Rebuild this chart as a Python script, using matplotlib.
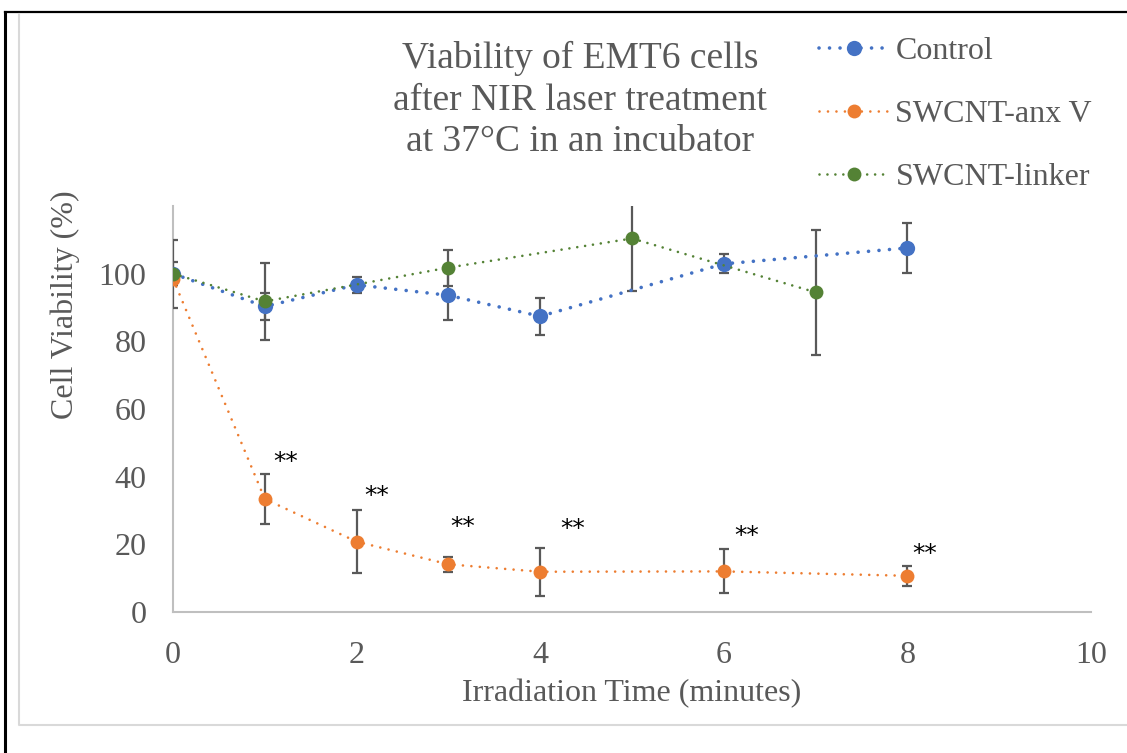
import numpy as np
import matplotlib.pyplot as plt
from matplotlib.lines import Line2D

# data
ctrl_x = [0, 1, 2, 3, 4, 6, 8]
ctrl_y = [100, 90.3, 96.7, 93.6, 87.4, 102.9, 107.6]
ctrl_err = [10, 4, 2.3, 7.2, 5.4, 2.8, 7.4]

anx_x = [0, 1, 2, 3, 4, 6, 8]
anx_y = [98.5, 33.4, 20.8, 14.1, 11.9, 12.0, 10.7]
anx_err = [0, 7.3, 9.4, 2.2, 7.1, 6.5, 2.9]

link_x = [0, 1, 3, 5, 7]
link_y = [100, 91.8, 101.8, 110.4, 94.5]
link_err = [3.4, 11.5, 5.3, 15.4, 18.4]

star_x = [1.23, 2.22, 3.16, 4.35, 6.25, 8.19]
star_y = [44.4, 34.3, 25.1, 24.6, 22.5, 17.2]

BLUE = '#4472C4'
ORANGE = '#ED7D31'
GREEN = '#548235'
GREY = '#595959'

plt.rcParams['font.family'] = ['Liberation Serif', 'DejaVu Serif']

fig = plt.figure(figsize=(11.27, 7.53), dpi=100)
ax = fig.add_axes([173 / 1127, 1 - 612 / 753, (1091 - 173) / 1127, (612 - 206) / 753])

series = [
    ('Control', ctrl_x, ctrl_y, ctrl_err, BLUE, 2.6, 2.9, 11),
    ('SWCNT-anx V', anx_x, anx_y, anx_err, ORANGE, 1.9, 3.2, 10),
    ('SWCNT-linker', link_x, link_y, link_err, GREEN, 1.9, 3.0, 10),
]

handles = []
for i, (name, xs, ys, es, col, lw, gap, ms) in enumerate(series):
    ax.errorbar(xs, ys, yerr=es, fmt='none', ecolor=GREY, elinewidth=1.6,
                capsize=3.8, capthick=1.6, zorder=5 + i)
    h, = ax.plot(xs, ys, color=col, lw=lw, linestyle=(0, (0.01, gap)),
                 dash_capstyle='round', marker='o', markersize=ms,
                 markeredgewidth=0, zorder=8 + i)
    handles.append(h)

for sx, sy in zip(star_x, star_y):
    ax.text(sx, sy, '**', fontsize=18, color='black', ha='center', va='center',
            family='DejaVu Sans')

ax.set_xlim(0, 10)
ax.set_ylim(0, 120)
ax.set_xticks([0, 2, 4, 6, 8, 10])
ax.set_yticks([0, 20, 40, 60, 80, 100])
ax.tick_params(length=0, labelsize=23, labelcolor=GREY)
ax.tick_params(axis='x', pad=21)
ax.tick_params(axis='y', pad=19)
for s in ['top', 'right']:
    ax.spines[s].set_visible(False)
for s in ['left', 'bottom']:
    ax.spines[s].set_color('#BFBFBF')
    ax.spines[s].set_linewidth(1.5)
ax.set_xlabel('Irradiation Time (minutes)', fontsize=23, color=GREY, labelpad=6)
ax.set_ylabel('Cell Viability (%)', fontsize=23, color=GREY)
ax.yaxis.set_label_coords(-0.101, 0.756)

fig.text(580 / 1127, 1 - 100 / 753,
         'Viability of EMT6 cells\nafter NIR laser treatment\nat 37°C in an incubator',
         fontsize=27, color=GREY, ha='center', va='center', multialignment='center',
         linespacing=1.27)

fig.legend(handles, [s[0] for s in series], loc='upper left',
           bbox_to_anchor=(790 / 1127, 1 - 8 / 753), frameon=False, fontsize=23,
           labelcolor=GREY, handlelength=2.2, handletextpad=0.2, labelspacing=1.05,
           numpoints=1)

# outer frame: black page edge and light grey chart border
fig.add_artist(Line2D([5 / 1127, 5 / 1127], [0, 1 - 12 / 753], color='black', lw=2.2,
                      transform=fig.transFigure))
fig.add_artist(Line2D([5 / 1127, 1], [1 - 12 / 753, 1 - 12 / 753], color='black', lw=1.6,
                      transform=fig.transFigure))
fig.add_artist(Line2D([19 / 1127, 19 / 1127, 1], [1 - 14 / 753, 1 - 725 / 753, 1 - 725 / 753],
                      color='#D9D9D9', lw=1.5, transform=fig.transFigure))

fig.savefig('out.png', dpi=100)
